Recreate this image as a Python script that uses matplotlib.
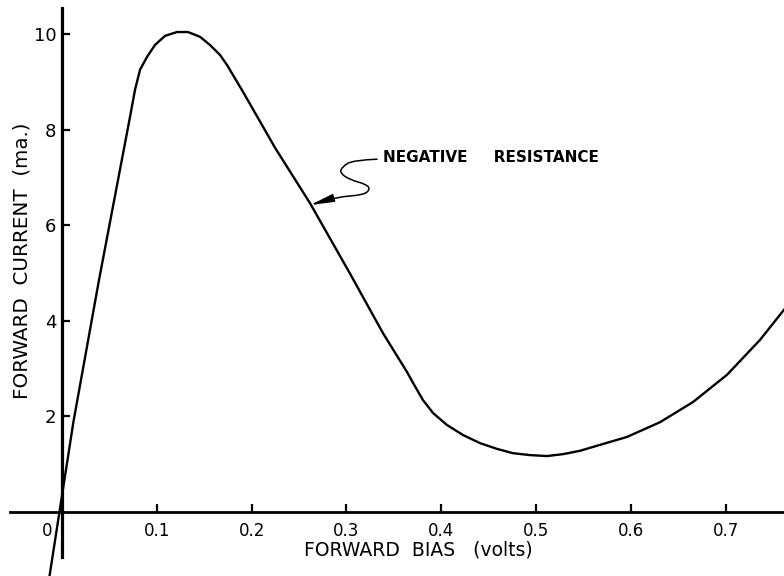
import matplotlib.pyplot as plt
from matplotlib.patches import FancyArrowPatch
from matplotlib.path import Path

# 데이터
bias_v = [-0.013, 0.012, 0.039, 0.0717, 0.0770, 0.0823, 0.0897, 0.0981, 0.1087,
          0.1213, 0.1329, 0.1456, 0.1561, 0.1667, 0.1741, 0.1909, 0.2068, 0.2247,
          0.2616, 0.304, 0.3386, 0.3639, 0.3703, 0.3808, 0.3914, 0.4061, 0.423,
          0.441, 0.4589, 0.4757, 0.4937, 0.5116, 0.5285, 0.5464, 0.560, 0.596,
          0.631, 0.6656, 0.7015, 0.7363, 0.7616, 0.775]
current_ma = [-1.32, 1.88, 4.85, 8.26, 8.83, 9.25, 9.52, 9.77, 9.96,
              10.04, 10.04, 9.94, 9.77, 9.56, 9.35, 8.79, 8.24, 7.62,
              6.46, 4.98, 3.74, 2.93, 2.70, 2.34, 2.07, 1.82, 1.61,
              1.44, 1.32, 1.23, 1.19, 1.17, 1.21, 1.28, 1.36, 1.57,
              1.88, 2.30, 2.87, 3.60, 4.23, 4.55]

x_ticks = [0.1, 0.2, 0.3, 0.4, 0.5, 0.6, 0.7]
x_tick_labels = ['0.1', '0.2', '0.3', '0.4', '0.5', '0.6', '0.7']
y_ticks = [2, 4, 6, 8, 10]
y_tick_labels = ['2', '4', '6', '8', '10']

# 주석 화살표가 지나가는 점 (글자 -> 곡선)
squiggle_v = [0.3323, 0.307, 0.2954, 0.2932, 0.3038, 0.3217, 0.3249, 0.3175, 0.290, 0.2616]
squiggle_i = [7.38, 7.36, 7.22, 7.09, 6.95, 6.85, 6.74, 6.63, 6.59, 6.42]

plt.rcParams['font.family'] = ['DejaVu Sans']

fig = plt.figure(figsize=(7.84, 5.76), dpi=100)
ax = fig.add_axes([0, 0, 1, 1])
ax.set_xlim(-0.0654, 0.7616)
ax.set_ylim(-1.339, 10.71)

# 축선: 원점에서 교차
ax.spines['top'].set_visible(False)
ax.spines['right'].set_visible(False)
ax.spines['left'].set_position(('data', 0))
ax.spines['bottom'].set_position(('data', 0))
ax.spines['left'].set_bounds(-0.94, 10.54)
ax.spines['bottom'].set_bounds(-0.055, 0.7616)
ax.spines['left'].set_linewidth(2.3)
ax.spines['bottom'].set_linewidth(2.0)
ax.patch.set_visible(False)

ax.set_xticks(x_ticks)
ax.set_xticklabels(x_tick_labels)
ax.set_yticks(y_ticks)
ax.set_yticklabels(y_tick_labels)
ax.tick_params(axis='x', direction='in', length=6, width=1.6, labelsize=12, pad=7)
ax.tick_params(axis='y', direction='in', length=6, width=1.6, labelsize=13, pad=4)

# 원점 0 표시
ax.annotate('0', xy=(0, 0), xytext=(-11, -14), textcoords='offset points',
            ha='center', va='center', fontsize=12)

# 곡선
ax.plot(bias_v, current_ma, color='black', lw=1.7, solid_joinstyle='round')

ax.set_xlabel('FORWARD  BIAS   (volts)', fontsize=13.5)
ax.xaxis.set_label_coords(0.533, 0.045)
ax.xaxis.label.set_va('center')
ax.set_ylabel('FORWARD  CURRENT  (ma.)', fontsize=14.3)
ax.yaxis.set_label_coords(0.028, 0.547)
ax.yaxis.label.set_va('center')

# NEGATIVE RESISTANCE 주석 + 구불구불한 화살표
ax.text(0.3386, 7.41, 'NEGATIVE     RESISTANCE', fontsize=11, fontweight='bold',
        ha='left', va='center')
pts = list(zip(squiggle_v, squiggle_i))
verts = [pts[0]]
codes = [Path.MOVETO]
for k in range(1, len(pts) - 1):
    mid = ((pts[k][0] + pts[k + 1][0]) / 2, (pts[k][1] + pts[k + 1][1]) / 2)
    verts += [pts[k], mid]
    codes += [Path.CURVE3, Path.CURVE3]
verts.append(pts[-1])
codes.append(Path.LINETO)
arrow = FancyArrowPatch(path=Path(verts, codes),
                        arrowstyle='-|>,head_length=1.2,head_width=0.2',
                        mutation_scale=12, lw=1.1, color='black')
ax.add_patch(arrow)

plt.savefig('out.png', dpi=100)
